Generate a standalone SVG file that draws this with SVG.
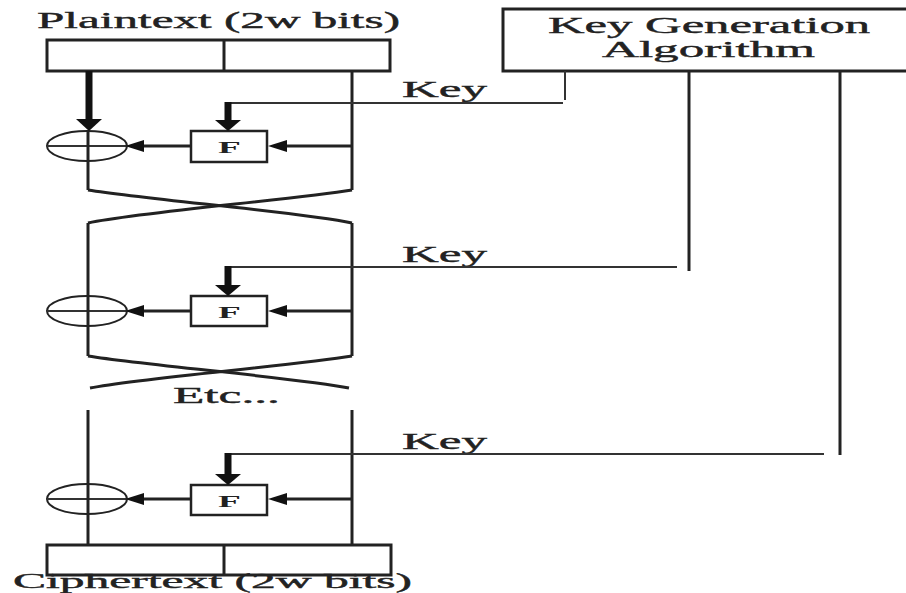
<svg xmlns="http://www.w3.org/2000/svg" width="906" height="593" viewBox="0 0 906 593">
<style>
  .txt { font-family: "Liberation Serif", "DejaVu Serif", serif; font-size: 23px; fill: #222; stroke: #222; stroke-width: 0.4; }
  .ftxt { font-family: "Liberation Serif", "DejaVu Serif", serif; font-size: 17px; font-weight: bold; fill: #222; }
  .box { fill: #fff; stroke: #222; stroke-width: 3; }
  .fbox { fill: #fff; stroke: #222; stroke-width: 2.5; }
  .ln { fill: none; stroke: #222; stroke-width: 3; }
  .thin { fill: none; stroke: #333; stroke-width: 2; }
  .thick { fill: none; stroke: #111; stroke-width: 7; }
  .head { fill: #111; }
  .xor { fill: none; stroke: #222; stroke-width: 2; }
</style>
<rect width="906" height="593" fill="#fff"/>

<g id="plaintext">
  <text class="txt" transform="translate(37,28) scale(2.2,1)" x="0" y="0" textLength="165" lengthAdjust="spacingAndGlyphs">Plaintext (2w bits)</text>
  <rect class="box" x="47" y="40" width="343" height="31"/>
  <line class="ln" x1="224" y1="40" x2="224" y2="71"/>
</g>

<g id="keygen">
  <rect class="box" x="503" y="9" width="410" height="62"/>
  <text class="txt" transform="translate(548,33) scale(2.2,1)" x="0" y="0" textLength="146.4" lengthAdjust="spacingAndGlyphs">Key Generation</text>
  <text class="txt" transform="translate(602,57) scale(2.2,1)" x="0" y="0" textLength="96.8" lengthAdjust="spacingAndGlyphs">Algorithm</text>
</g>

<g id="round1">
  <ellipse class="xor" cx="87" cy="146" rx="40" ry="15"/>
  <line class="thin" x1="47" y1="146" x2="127" y2="146"/>
  <rect class="fbox" x="191" y="131" width="76" height="31"/>
  <text class="ftxt" transform="translate(218,153) scale(2.2,1)" x="0" y="0">F</text>
</g>

<g id="round2">
  <ellipse class="xor" cx="87" cy="311" rx="40" ry="15"/>
  <line class="thin" x1="47" y1="311" x2="127" y2="311"/>
  <rect class="fbox" x="191" y="296" width="76" height="30"/>
  <text class="ftxt" transform="translate(218,318) scale(2.2,1)" x="0" y="0">F</text>
</g>

<g id="etc">
  <text class="txt" transform="translate(173,403) scale(2.2,1)" x="0" y="0" textLength="48.6" lengthAdjust="spacingAndGlyphs">Etc...</text>
</g>

<g id="round3">
  <ellipse class="xor" cx="87" cy="499" rx="40" ry="15"/>
  <line class="thin" x1="47" y1="499" x2="127" y2="499"/>
  <rect class="fbox" x="191" y="485" width="76" height="30"/>
  <text class="ftxt" transform="translate(218,507) scale(2.2,1)" x="0" y="0">F</text>
</g>

<g id="ciphertext">
  <rect class="box" x="47" y="545" width="344" height="30"/>
  <line class="ln" x1="224" y1="545" x2="224" y2="575"/>
  <text class="txt" transform="translate(13,588) scale(2.2,1)" x="0" y="0" style="font-size:21px" textLength="181.4" lengthAdjust="spacingAndGlyphs">Ciphertext (2w bits)</text>
</g>

<g id="key-labels">
  <text class="txt" transform="translate(402,97) scale(2.2,1)" x="0" y="0" textLength="38.6" lengthAdjust="spacingAndGlyphs">Key</text>
  <text class="txt" transform="translate(402,262) scale(2.2,1)" x="0" y="0" textLength="38.6" lengthAdjust="spacingAndGlyphs">Key</text>
  <text class="txt" transform="translate(402,449) scale(2.2,1)" x="0" y="0" textLength="38.6" lengthAdjust="spacingAndGlyphs">Key</text>
</g>

<g id="connectors">
  <!-- round 1 -->
  <line class="thick" x1="89" y1="71" x2="89" y2="121"/>
  <polygon class="head" points="76,119 102,119 89,131"/>
  <line class="ln" x1="88" y1="131" x2="88" y2="190"/>
  <line class="ln" x1="352" y1="71" x2="352" y2="190"/>
  <line class="ln" x1="352" y1="146" x2="285" y2="146"/>
  <polygon class="head" points="268,146 287,140 287,152"/>
  <line class="ln" x1="191" y1="146" x2="142" y2="146"/>
  <polygon class="head" points="125,146 144,140 144,152"/>
  <!-- key 1 -->
  <line class="thin" x1="565" y1="71" x2="565" y2="100"/>
  <line class="thin" x1="563" y1="103" x2="227" y2="103"/>
  <line class="thick" x1="228" y1="102" x2="228" y2="122"/>
  <polygon class="head" points="215,120 241,120 228,131"/>

  <!-- cross 1 -->
  <path class="ln" d="M88,190 C150,200 300,212 352,223"/>
  <path class="ln" d="M352,190 C290,200 140,212 88,223"/>

  <!-- round 2 -->
  <line class="ln" x1="88" y1="223" x2="88" y2="356"/>
  <line class="ln" x1="352" y1="223" x2="352" y2="356"/>
  <line class="ln" x1="352" y1="311" x2="285" y2="311"/>
  <polygon class="head" points="268,311 287,305 287,317"/>
  <line class="ln" x1="191" y1="311" x2="142" y2="311"/>
  <polygon class="head" points="125,311 144,305 144,317"/>
  <!-- key 2 -->
  <line class="ln" x1="689" y1="71" x2="689" y2="271"/>
  <line class="thin" x1="677" y1="267" x2="227" y2="267"/>
  <line class="thick" x1="228" y1="266" x2="228" y2="287"/>
  <polygon class="head" points="215,285 241,285 228,296"/>

  <!-- cross 2 -->
  <path class="ln" d="M88,356 C150,366 300,378 349,388"/>
  <path class="ln" d="M352,356 C290,366 140,378 90,388"/>

  <!-- round 3 -->
  <line class="ln" x1="88" y1="410" x2="88" y2="545"/>
  <line class="ln" x1="352" y1="410" x2="352" y2="545"/>
  <line class="ln" x1="352" y1="499" x2="285" y2="499"/>
  <polygon class="head" points="268,499 287,493 287,505"/>
  <line class="ln" x1="191" y1="499" x2="142" y2="499"/>
  <polygon class="head" points="125,499 144,493 144,505"/>
  <!-- key 3 -->
  <line class="ln" x1="840" y1="71" x2="840" y2="455"/>
  <line class="thin" x1="824" y1="454" x2="227" y2="454"/>
  <line class="thick" x1="228" y1="453" x2="228" y2="476"/>
  <polygon class="head" points="215,474 241,474 228,485"/>
</g>
</svg>
